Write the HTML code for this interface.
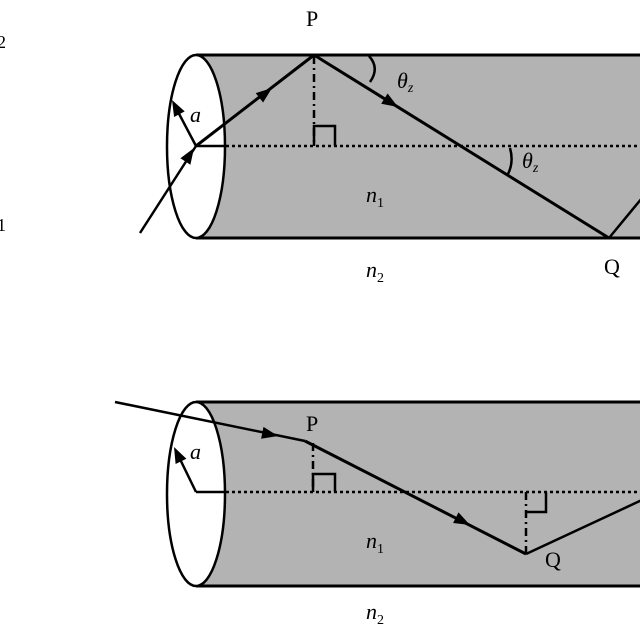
<!DOCTYPE html>
<html><head><style>html,body{margin:0;padding:0;background:#fff}svg{display:block}</style></head>
<body>
<svg width="640" height="640" viewBox="0 0 640 640" xmlns="http://www.w3.org/2000/svg" font-family="Liberation Serif, serif">
<text x="-3" y="48" font-size="18">2</text>
<text x="-3" y="231" font-size="18">1</text>
<!-- TOP cylinder -->
<rect x="196" y="55" width="450" height="183" fill="#b3b3b3"/>
<line x1="196" y1="55" x2="640" y2="55" stroke="#000" stroke-width="3"/>
<line x1="196" y1="238" x2="640" y2="238" stroke="#000" stroke-width="3"/>
<ellipse cx="196" cy="146.5" rx="29" ry="91.5" fill="#fff" stroke="#000" stroke-width="2.5"/>
<line x1="196" y1="146" x2="226" y2="146" stroke="#000" stroke-width="2.5"/>
<line x1="226" y1="146" x2="640" y2="146" stroke="#000" stroke-width="2.5" stroke-dasharray="3,3"/>
<line x1="314" y1="56" x2="314" y2="146" stroke="#000" stroke-width="2.5" stroke-dasharray="8,4,2,4"/>
<polyline points="314,146 314,126 335,126 335,146" fill="none" stroke="#000" stroke-width="2.5"/>
<line x1="196" y1="146" x2="176" y2="108" stroke="#000" stroke-width="2.5"/>
<path d="M172,100 L184.7,111.4 L174.1,117 z" fill="#000"/>
<text x="190" y="122" font-size="22" font-style="italic">a</text>
<line x1="140" y1="233" x2="196" y2="146" stroke="#000" stroke-width="2.5"/>
<path d="M194,148 L190.4,164.7 L180.4,158.3 z" fill="#000"/>
<line x1="196" y1="146" x2="314" y2="55" stroke="#000" stroke-width="3"/>
<path d="M272,88 L263.1,102.5 L255.7,93.1 z" fill="#000"/>
<line x1="314" y1="55" x2="609" y2="238" stroke="#000" stroke-width="3"/>
<path d="M398,107 L381.2,103.7 L387.6,93.5 z" fill="#000"/>
<line x1="609" y1="238" x2="642" y2="198" stroke="#000" stroke-width="2.5"/>
<path d="M369,56 Q380,68 370,82" fill="none" stroke="#000" stroke-width="2.5"/>
<path d="M510,148 Q514,162 508,174" fill="none" stroke="#000" stroke-width="2.5"/>
<text x="397" y="88" font-size="22" font-style="italic">θ<tspan font-size="14" dy="4">z</tspan></text>
<text x="522" y="168" font-size="22" font-style="italic">θ<tspan font-size="14" dy="4">z</tspan></text>
<text x="366" y="202" font-size="22" font-style="italic">n<tspan font-size="14" font-style="normal" dy="5">1</tspan></text>
<text x="366" y="277" font-size="22" font-style="italic">n<tspan font-size="14" font-style="normal" dy="5">2</tspan></text>
<text x="306" y="26" font-size="22">P</text>
<text x="604" y="274" font-size="22">Q</text>
<!-- BOTTOM cylinder -->
<rect x="196" y="402" width="450" height="184" fill="#b3b3b3"/>
<line x1="196" y1="402" x2="640" y2="402" stroke="#000" stroke-width="3"/>
<line x1="196" y1="586" x2="640" y2="586" stroke="#000" stroke-width="3"/>
<ellipse cx="196" cy="494" rx="29" ry="92" fill="#fff" stroke="#000" stroke-width="2.5"/>
<line x1="196" y1="492" x2="226" y2="492" stroke="#000" stroke-width="2.5"/>
<line x1="226" y1="492" x2="640" y2="492" stroke="#000" stroke-width="2.5" stroke-dasharray="3,3"/>
<line x1="313" y1="443" x2="313" y2="492" stroke="#000" stroke-width="2.5" stroke-dasharray="8,4,2,4"/>
<polyline points="313,492 313,474 335,474 335,492" fill="none" stroke="#000" stroke-width="2.5"/>
<line x1="526" y1="492" x2="526" y2="554" stroke="#000" stroke-width="2.5" stroke-dasharray="8,4,2,4"/>
<polyline points="526,512 546,512 546,492" fill="none" stroke="#000" stroke-width="2.5"/>
<line x1="196" y1="492" x2="178" y2="455" stroke="#000" stroke-width="2.5"/>
<path d="M174,447 L186.4,458.8 L175.6,464 z" fill="#000"/>
<text x="190" y="459" font-size="22" font-style="italic">a</text>
<line x1="115" y1="402" x2="305" y2="441" stroke="#000" stroke-width="2.5"/>
<path d="M278,436 L261.1,438.7 L263.5,426.9 z" fill="#000"/>
<line x1="305" y1="441" x2="526" y2="554" stroke="#000" stroke-width="3"/>
<path d="M470,525 L453.1,523 L458.5,512.4 z" fill="#000"/>
<line x1="526" y1="554" x2="642" y2="500" stroke="#000" stroke-width="2.5"/>
<text x="306" y="431" font-size="22">P</text>
<text x="545" y="567" font-size="22">Q</text>
<text x="366" y="548" font-size="22" font-style="italic">n<tspan font-size="14" font-style="normal" dy="5">1</tspan></text>
<text x="366" y="619" font-size="22" font-style="italic">n<tspan font-size="14" font-style="normal" dy="5">2</tspan></text>
</svg>
</body></html>
